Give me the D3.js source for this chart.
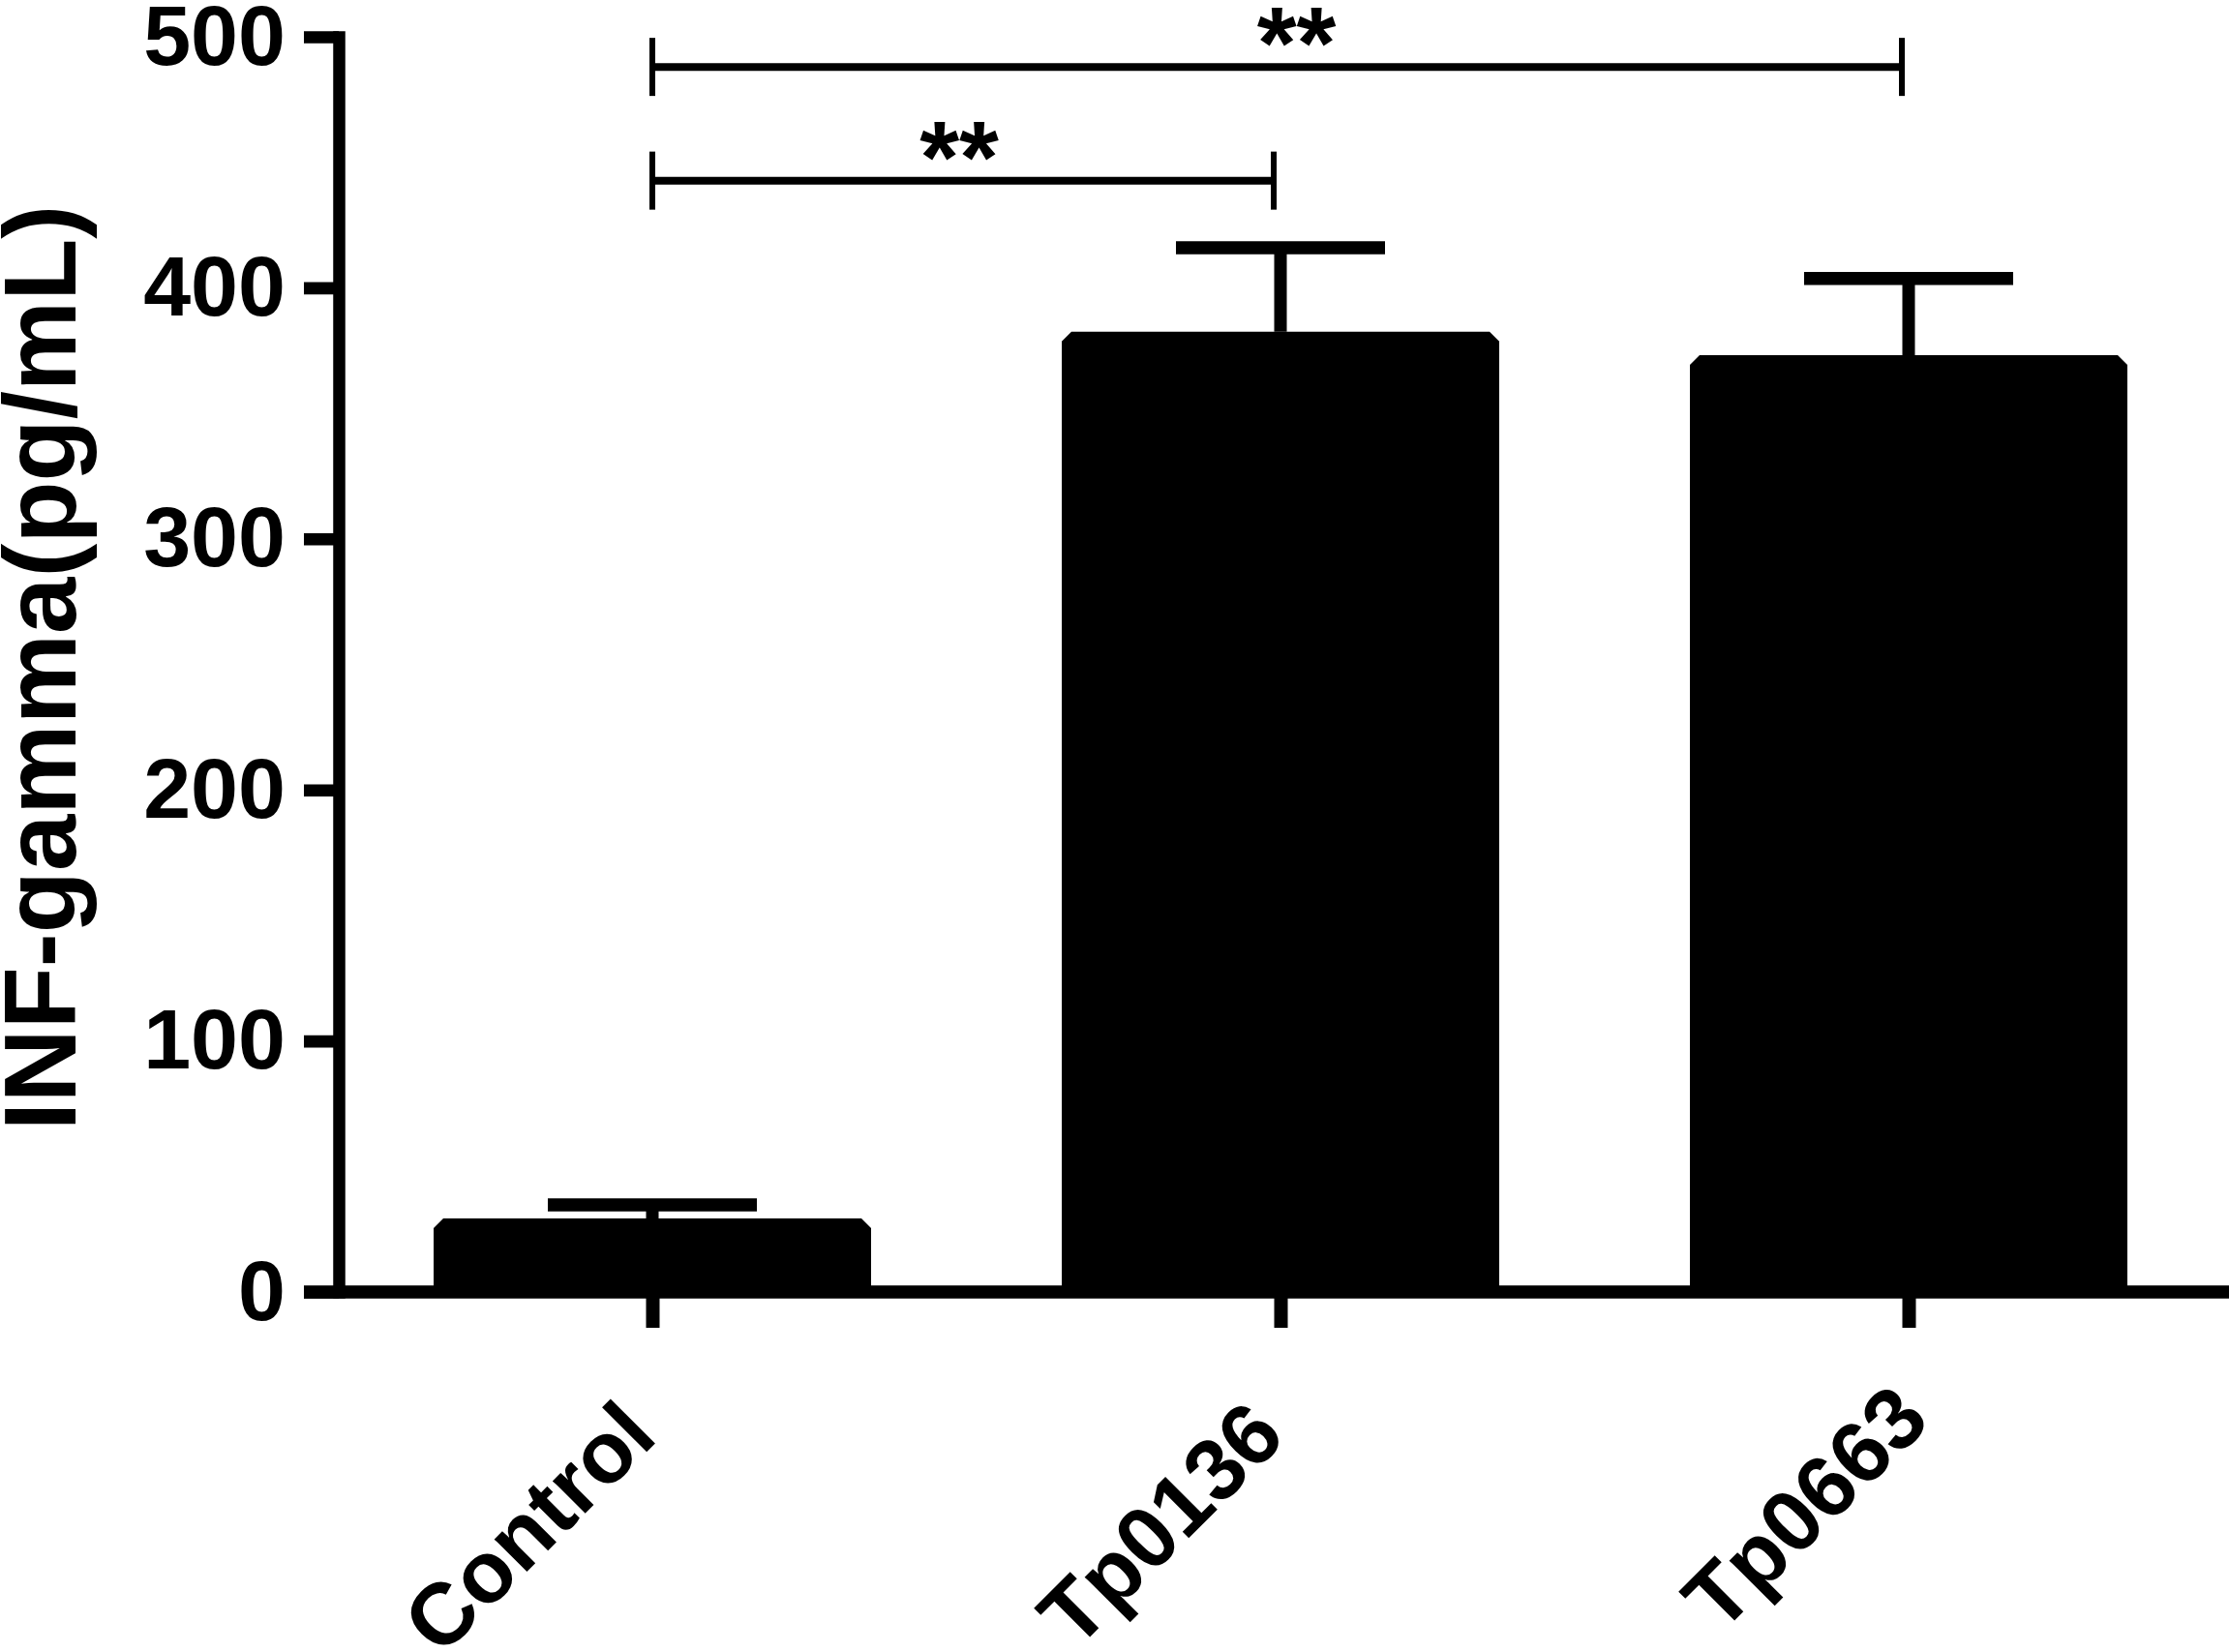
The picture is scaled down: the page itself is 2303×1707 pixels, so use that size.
<!DOCTYPE html>
<html lang="en">
<head>
  <meta charset="utf-8" />
  <title>INF-gamma</title>
  <style>
    body { margin: 0; background: #fff; }
    svg text { font-family: "Liberation Sans", Arial, sans-serif; font-weight: bold; fill: #000; }
    .bar { fill: #000; }
    .err { stroke: #000; fill: none; }
    .sig { stroke: #000; fill: none; }
  </style>
</head>
<body>
  <script src="https://cdn.jsdelivr.net/npm/d3@7/dist/d3.min.js"></script>
  <script>
    var w = 2303;
    var h = 1707;

    // values
    var categories = ["Control", "Tp0136", "Tp0663"];
    var means = [29.3, 382.5, 373.2];
    var errors = [5.4, 33.5, 30.5];
    var yTicks = [0, 100, 200, 300, 400, 500];
    var yTitle = "INF-gamma(pg/mL)";

    // significance brackets: groups compared, bracket height in data units, label
    var sigFrom = ["Control", "Control"];
    var sigTo = ["Tp0136", "Tp0663"];
    var sigLevel = [442.7, 488];
    var sigLabel = ["**", "**"];

    var data = categories.map(function(c, i) {
      return { name: c, mean: means[i], err: errors[i] };
    });

    var svg = d3.select("body").append("svg")
      .attr("width", w)
      .attr("height", h);

    var xScale = d3.scalePoint()
      .domain(categories)
      .range([674, 1972]);

    var yScale = d3.scaleLinear()
      .domain([0, 500])
      .range([1335, 38]);

    var barW = 452;
    var chamfer = 10;

    // bars with cut top corners
    svg.append("g")
      .selectAll("path")
      .data(data)
      .enter()
      .append("path")
      .attr("class", "bar")
      .attr("d", function(d) {
        var x0 = xScale(d.name) - barW / 2;
        var x1 = xScale(d.name) + barW / 2;
        var yt = yScale(d.mean);
        var yb = yScale(0);
        return "M" + x0 + "," + yb +
          "V" + (yt + chamfer) +
          "L" + (x0 + chamfer) + "," + yt +
          "H" + (x1 - chamfer) +
          "L" + x1 + "," + (yt + chamfer) +
          "V" + yb + "Z";
      });

    // error bars (upper only)
    var eg = svg.append("g");
    eg.selectAll(".stem")
      .data(data)
      .enter()
      .append("line")
      .attr("class", "err")
      .attr("stroke-width", 13)
      .attr("x1", function(d) { return xScale(d.name); })
      .attr("x2", function(d) { return xScale(d.name); })
      .attr("y1", function(d) { return yScale(d.mean); })
      .attr("y2", function(d) { return yScale(d.mean + d.err); });

    eg.selectAll(".cap")
      .data(data)
      .enter()
      .append("line")
      .attr("class", "err")
      .attr("stroke-width", 13.5)
      .attr("x1", function(d) { return xScale(d.name) - 108; })
      .attr("x2", function(d) { return xScale(d.name) + 108; })
      .attr("y1", function(d) { return yScale(d.mean + d.err); })
      .attr("y2", function(d) { return yScale(d.mean + d.err); });

    // y axis
    var yAxis = d3.axisLeft(yScale)
      .tickValues(yTicks)
      .tickSize(36)
      .tickSizeOuter(0)
      .tickPadding(19);

    var yg = svg.append("g")
      .attr("transform", "translate(350,0)")
      .call(yAxis);

    yg.select(".domain")
      .attr("stroke-width", 12.5)
      .attr("stroke-linecap", "square");
    yg.selectAll(".tick line")
      .attr("stroke-width", 12.6);
    yg.selectAll(".tick text")
      .attr("font-size", 88);

    // x axis
    var xAxis = d3.axisBottom(xScale)
      .tickSize(37)
      .tickSizeOuter(0);

    var xg = svg.append("g")
      .attr("transform", "translate(0," + yScale(0) + ")")
      .call(xAxis);

    // the last label sits a little further along its slant in the original
    var labelNudge = [0, 0, 24];

    xg.select(".domain").remove();
    xg.selectAll(".tick line")
      .attr("stroke-width", 14);
    xg.selectAll(".tick text")
      .attr("font-size", 90)
      .attr("text-anchor", "end")
      .attr("x", function(d, i) { return labelNudge[i]; })
      .attr("y", 0)
      .attr("dy", 0)
      .attr("transform", "translate(7,152) rotate(-45)");

    xg.append("line")
      .attr("stroke", "#000")
      .attr("stroke-width", 13.5)
      .attr("x1", 314)
      .attr("x2", w)
      .attr("y1", 0)
      .attr("y2", 0);

    // y axis title
    svg.append("text")
      .attr("transform", "translate(78,690) rotate(-90)")
      .attr("text-anchor", "middle")
      .attr("font-size", 105)
      .text(yTitle);

    // significance brackets
    var starShift = [-4, 20];
    var sg = svg.append("g");
    sigFrom.forEach(function(f, i) {
      var xa = xScale(f);
      var xb = xScale(sigTo[i]) - 7;
      var yl = yScale(sigLevel[i]);
      sg.append("line")
        .attr("class", "sig")
        .attr("stroke-width", 8)
        .attr("x1", xa).attr("x2", xb)
        .attr("y1", yl).attr("y2", yl);
      [xa, xb].forEach(function(xe) {
        sg.append("line")
          .attr("class", "sig")
          .attr("stroke-width", 6)
          .attr("x1", xe).attr("x2", xe)
          .attr("y1", yl - 30).attr("y2", yl + 30);
      });
      sg.append("text")
        .attr("x", (xa + xb) / 2 + starShift[i])
        .attr("y", yl + 12)
        .attr("text-anchor", "middle")
        .attr("font-size", 105)
        .text(sigLabel[i]);
    });
  </script>
</body>
</html>
